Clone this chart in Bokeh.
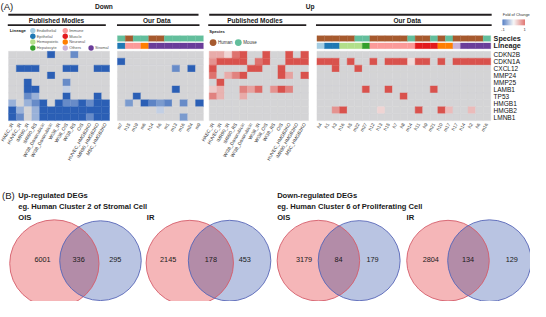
import numpy as np
from bokeh.plotting import figure
from bokeh.models import Range1d, LinearColorMapper, ColumnDataSource
from bokeh.core.properties import value
from bokeh.embed import file_html
from bokeh.resources import INLINE

N = None

# ---------------- data ----------------
GENES = ["CDKN2B", "CDKN1A", "CXCL12", "MMP24", "MMP25", "LAMB1", "TP53", "HMGB1", "HMGB2", "LMNB1"]
PUB_MODELS = ["HAEC_IR", "HUVEC_IR", "IMR90_IR", "IMR90_RS", "WI38_Doxorubicin", "WI38_Doxorubicin",
              "WI38_IR", "WI38_OIS", "WI38_RS", "OIS", "HUVEC_HMGB2KO", "IMR90_HMGB2KO", "MSC_HMGB2KO"]
DOWN_CLUSTERS = ["m7", "h15", "m19", "m6", "h14", "h6", "m1", "m13", "m16", "m24", "m9"]
DOWN_LINEAGE = ["Epithelial", "Immune", "Immune", "Neuronal", "Stromal", "Stromal", "Stromal",
                "Stromal", "Stromal", "Stromal", "Stromal"]
UP_CLUSTERS = ["h4", "h1", "h3", "h16", "h5", "m22", "m27", "h12", "h13", "h15", "h7", "h8",
               "m14", "h11", "h9", "m21", "h10", "m17", "h17", "h14", "h2", "h6", "m16"]
UP_LINEAGE = ["Endothelial", "Epithelial", "Epithelial", "Hemopoietic", "Hemopoietic", "Hemopoietic",
              "Hepatocyte", "Immune", "Immune", "Immune", "Immune", "Immune", "Immune",
              "Muscle", "Muscle", "Muscle", "Neuronal", "Neuronal", "Others",
              "Stromal", "Stromal", "Stromal", "Stromal"]
LINEAGES = ["Endothelial", "Epithelial", "Hemopoietic", "Hepatocyte", "Immune", "Muscle",
            "Neuronal", "Others", "Stromal"]
SPECIES = ["Human", "Mouse"]

# fold change, rows = GENES, columns = models / clusters (None = not significant)
DOWN_PUB = [
    [N, N, N, N, N, -1, N, N, -0.7, N, N, N, N],
    [N, N, N, N, N, N, N, N, N, N, N, N, N],
    [N, -1, -1, -1, N, N, N, -1, -1, N, N, -1, -1],
    [N, N, N, N, N, -1, N, N, N, N, N, N, N],
    [N, N, -1, N, N, N, N, -0.7, N, N, N, N, N],
    [N, N, -1, -1, N, N, N, -0.25, N, N, N, N, N],
    [N, N, -0.7, -0.45, N, N, N, -1, N, N, N, -1, N],
    [-0.45, N, -0.45, -0.7, -1, N, -1, -0.7, -0.7, -1, -0.7, -1, -1],
    [-1, -0.45, N, -0.45, -1, -1, -1, -1, -1, -1, -1, -1, -1],
    [-1, -0.7, N, -0.45, -1, -1, -1, -1, -1, -1, -0.7, -1, -1],
]
DOWN_OUR = [
    [N, N, N, N, N, N, N, N, N, N, N],
    [-1, N, N, N, N, N, N, N, N, N, N],
    [N, N, N, N, N, N, N, -0.7, N, -1, N],
    [N, N, N, N, N, N, N, N, N, N, N],
    [N, N, N, N, N, N, N, N, N, N, N],
    [N, N, N, N, N, N, N, -1, N, N, N],
    [N, N, -1, N, N, N, N, N, N, N, N],
    [N, -0.6, N, -1, -0.75, -0.6, -0.75, N, -0.7, N, -1],
    [N, N, N, N, N, -0.25, N, N, N, N, N],
    [N, N, N, N, N, N, N, N, -0.6, N, N],
]
UP_PUB = [
    [0.45, 0.45, 0.2, 0.8, 1, N, N, 1, N, N, 1, N, 1],
    [0.6, 1, 1, 1, 1, N, 0.8, 1, N, N, 1, 1, 1],
    [1, N, N, N, N, 1, 1, N, N, 1, N, N, N],
    [0.8, N, 0.45, 0.7, 1, N, N, N, N, 1, 0.5, N, 1],
    [N, 1, N, N, N, N, N, N, N, N, N, N, N],
    [0.25, 0.4, N, N, 0.7, 0.5, 0.85, N, 0.6, 1, 0.7, N, N],
    [0.7, 0.4, N, N, 0.45, N, N, N, N, N, N, N, N],
    [N, N, N, N, N, N, N, N, N, N, N, N, N],
    [N, N, N, N, N, N, N, N, N, N, N, N, N],
    [N, N, N, N, N, N, N, N, N, N, N, N, N],
]
UP_OUR = [
    [N] * 23,
    [1, 1, 1, N, 1, N, N, 1, N, 1, 1, 1, 0.15, 1, 1, N, 1, N, 1, 1, 1, 1, 1],
    [N, N, 1, N, N, 1, N, N, N, N, N, N, N, N, N, N, N, N, N, N, N, N, N],
    [N] * 23,
    [N] * 23,
    [N, N, N, N, N, N, 1, N, N, 1, N, N, N, N, N, 1, N, N, N, N, N, N, N],
    [N, N, N, N, N, N, N, N, N, N, N, 1, N, N, N, N, N, N, N, N, N, N, N],
    [N] * 23,
    [N, N, 0.6, 1, N, N, N, N, 0.2, N, N, N, N, 1, N, N, 1, 0.35, N, N, 0.35, N, N],
    [N] * 23,
]
COLORBAR_TICKS = [-1, 1]

# Venn counts: (only set A, shared, only set B)
UP_OIS = [6001, 336, 295]
UP_IR = [2145, 178, 453]
DOWN_OIS = [3179, 84, 179]
DOWN_IR = [2804, 134, 129]

# ---------------- styles / layout ----------------
REF_W, REF_H = 546, 317
W, H = 530, 301
FS = 0.96
FONT = value("Liberation Sans")
LINEAGE_COLORS = ["#a6cee3", "#1f78b4", "#b2df8a", "#33a02c", "#fb9a99", "#e31a1c", "#ff7f00", "#cab2d6", "#6a3d9a"]
SPECIES_COLORS = ["#a65a2e", "#63be9c"]
LIN_COL = dict(zip(LINEAGES, LINEAGE_COLORS))
SP_COL = dict(zip(SPECIES, SPECIES_COLORS))


def interp_palette(stops, n=256):
    cols = []
    rgb = [tuple(int(s[i:i + 2], 16) for i in (1, 3, 5)) for s in stops]
    seg = len(rgb) - 1
    for k in range(n):
        t = k / (n - 1) * seg
        i = min(int(t), seg - 1)
        f = t - i
        c = [round(rgb[i][j] + (rgb[i + 1][j] - rgb[i][j]) * f) for j in range(3)]
        cols.append("#%02x%02x%02x" % tuple(c))
    return cols


mapper = LinearColorMapper(palette=interp_palette(["#2b5fb5", "#f4f4f4", "#d9524d"]),
                           low=-1, high=1, nan_color="#d4d4d6")

p = figure(width=W, height=H, x_range=Range1d(0, REF_W), y_range=Range1d(REF_H, 0),
           x_axis_location=None, y_axis_location=None, output_backend="svg",
           toolbar_location=None, min_border=0, outline_line_color=None)
p.grid.visible = False

xr, yr = {}, {}


def lin(lo, hi, p0, p1, a, b):
    f = (hi - lo) / (p1 - p0)
    return Range1d(lo + (a - p0) * f, lo + (b - p0) * f)


def txt(x, y, s, size, bold=False, align="left", color="#1a1a1a", **kw):
    p.text(x=[x], y=[y], text=[s], text_font=FONT, text_font_size=value("%.2fpx" % (size * FS)),
           text_font_style="bold" if bold else "normal", text_align=align,
           text_baseline="middle", text_color=color, **kw)


T, B = 53.5, 126.5
HEATMAPS = [("dp", DOWN_PUB, PUB_MODELS, 8.3, 112.3),
            ("do", DOWN_OUR, DOWN_CLUSTERS, 120.5, 209.0),
            ("up", UP_PUB, PUB_MODELS, 215.0, 317.3),
            ("uo", UP_OUR, UP_CLUSTERS, 326.0, 505.0)]
for name, mat, labels, L, R in HEATMAPS:
    nr, nc = len(mat), len(mat[0])
    xr[name] = lin(0, nc, L, R, 0, REF_W)
    yr[name] = lin(0, nr, T, B, REF_H, 0)
xr["cb"] = lin(-1, 1, 517.5, 540, 0, REF_W)
p.extra_x_ranges = xr
p.extra_y_ranges = yr

for name, mat, labels, L, R in HEATMAPS:
    xs, ys, vs = [], [], []
    for r, row in enumerate(mat):
        for c, v in enumerate(row):
            xs.append(c + 0.5)
            ys.append(r + 0.5)
            vs.append(np.nan if v is None else v)
    src = ColumnDataSource(dict(x=xs, y=ys, v=np.array(vs, dtype=float)))
    p.rect("x", "y", 1, 1, source=src, x_range_name=name, y_range_name=name,
           fill_color={"field": "v", "transform": mapper},
           line_color={"field": "v", "transform": mapper}, line_width=0.4)
    p.text(x=[i + 0.5 for i in range(len(labels))], y=[129.5] * len(labels), text=labels,
           x_range_name=name, angle=np.deg2rad(60), text_align="right", text_baseline="middle",
           text_font=FONT, text_font_size=value("%.2fpx" % (4.9 * FS)), text_color="#333333")

# annotation bars
for name, clusters, lineage in [("do", DOWN_CLUSTERS, DOWN_LINEAGE), ("uo", UP_CLUSTERS, UP_LINEAGE)]:
    n = len(clusters)
    sp = ["Human" if c.startswith("h") else "Mouse" for c in clusters]
    src = ColumnDataSource(dict(x=[i + 0.5 for i in range(n)],
                                sc=[SP_COL[s] for s in sp], lc=[LIN_COL[l] for l in lineage]))
    p.rect("x", 40.0, 1, 6.0, source=src, x_range_name=name, fill_color="sc", line_color="sc", line_width=0.3)
    p.rect("x", 47.7, 1, 6.0, source=src, x_range_name=name, fill_color="lc", line_color="lc", line_width=0.3)

# gene names
p.text(x=[508] * len(GENES), y=[i + 0.5 for i in range(len(GENES))], text=GENES, y_range_name="uo",
       text_font=FONT, text_font_size=value("%.2fpx" % (6.8 * FS)), text_baseline="middle",
       text_color="#111111")
txt(508, 40.0, "Species", 7.5, bold=True)
txt(508, 47.6, "Lineage", 7.5, bold=True)

# headers
txt(0, 6.5, "(A)", 10)
txt(106.5, 6.7, "Down", 6.9, bold=True, align="center")
txt(319, 6.7, "Up", 6.9, bold=True, align="center")
p.segment(x0=[8, 215], y0=[15, 15], x1=[204, 506], y1=[15, 15], line_width=1.8, line_color="#231f20")
p.segment(x0=[7.5, 120, 214, 325], y0=[26, 26, 26, 26], x1=[108.5, 205, 315, 506], y1=[26, 26, 26, 26],
          line_width=1.8, line_color="#231f20")
for cx, s in [(57.7, "Published Modles"), (161, "Our Data"), (262, "Published Modles"), (419, "Our Data")]:
    txt(cx, 21.5, s, 6.8, bold=True, align="center")

# lineage legend
txt(9.5, 32, "Lineage", 4.5, bold=True)
LEG_X = [33.3, 33.3, 33.3, 33.3, 66.7, 66.7, 66.7, 66.7, 93.3]
LEG_Y = [31.7, 37.7, 43.7, 50.0, 31.7, 37.7, 43.7, 50.0, 50.0]
p.scatter(LEG_X, LEG_Y, size=5.4, fill_color=LINEAGE_COLORS, line_color=None)
p.text(x=[x + 4 for x in LEG_X], y=LEG_Y, text=LINEAGES, text_font=FONT,
       text_font_size=value("%.2fpx" % (4.1 * FS)), text_baseline="middle", text_color="#555555")

# species legend
txt(215, 32.5, "Species", 4.3, bold=True)
SPL_X = [219, 245]
p.scatter(SPL_X, [44.3, 44.3], size=6.8, fill_color=SPECIES_COLORS, line_color=None)
p.text(x=[x + 5 for x in SPL_X], y=[44.3, 44.3], text=SPECIES, text_font=FONT,
       text_font_size=value("%.2fpx" % (4.7 * FS)), text_baseline="middle", text_color="#333333")

# colour bar
cb = np.linspace(-1, 1, 40)
step = cb[1] - cb[0]
p.rect(x=cb, y=[23] * len(cb), width=step * 1.05, height=6, x_range_name="cb",
       fill_color={"field": "x", "transform": mapper}, line_color=None)
txt(517.5, 14.5, "Fold of Change", 4.1, color="#333333")
p.text(x=COLORBAR_TICKS, y=[30.5, 30.5], text=[str(t) for t in COLORBAR_TICKS], x_range_name="cb",
       text_font=FONT, text_font_size=value("%.2fpx" % (4.2 * FS)), text_align="center",
       text_baseline="middle", text_color="#333333")

# ---------------- Part B ----------------
txt(1.5, 205, "(B)", 10)
txt(18.3, 205, "Up-regulated DEGs", 7.9, bold=True)
txt(18.3, 216.7, "eg. Human Cluster 2 of Stromal Cell", 7.9, bold=True)
txt(18.3, 228.5, "OIS", 7.9, bold=True)
txt(150.7, 228.5, "IR", 7.9, bold=True)
txt(285, 205, "Down-regulated DEGs", 7.9, bold=True)
txt(285, 216.7, "eg. Human Cluster 6 of Proliferating Cell", 7.9, bold=True)
txt(285, 228.5, "OIS", 7.9, bold=True)
txt(418.3, 228.5, "IR", 7.9, bold=True)

VENN_GEOM = [((55.5, 277.0, 46.0), (103.0, 274.0, 42.0)),
             ((195.0, 276.5, 45.0), (236.0, 274.0, 42.5)),
             ((327.5, 274.0, 42.5), (369.5, 274.0, 42.2)),
             ((461.0, 274.0, 42.5), (503.7, 274.0, 43.0))]
VENN_LABEL_X = [(43.3, 80.5, 118.3), (172.7, 216.7, 251.7), (312.7, 348.3, 383.3), (443.3, 481.7, 526.7)]


def lens(c1, c2, n=720):
    t = np.linspace(0, 2 * np.pi, n, endpoint=False)
    (x1, y1, r1), (x2, y2, r2) = c1, c2
    ax, ay = x1 + r1 * np.cos(t), y1 + r1 * np.sin(t)
    bx, by = x2 + r2 * np.cos(t), y2 + r2 * np.sin(t)
    ina = (ax - x2) ** 2 + (ay - y2) ** 2 <= r2 ** 2
    inb = (bx - x1) ** 2 + (by - y1) ** 2 <= r1 ** 2
    xs = np.concatenate([ax[ina], bx[inb]])
    ys = np.concatenate([ay[ina], by[inb]])
    o = np.argsort(np.arctan2(ys - ys.mean(), xs - xs.mean()))
    return xs[o], ys[o]


for (c1, c2), counts, lx in zip(VENN_GEOM, [UP_OIS, UP_IR, DOWN_OIS, DOWN_IR], VENN_LABEL_X):
    p.ellipse(x=[c1[0]], y=[c1[1]], width=[2 * c1[2]], height=[2 * c1[2]], fill_color="#f5b6b8", line_color=None)
    p.ellipse(x=[c2[0]], y=[c2[1]], width=[2 * c2[2]], height=[2 * c2[2]], fill_color="#b9c4e2", line_color=None)
    lxs, lys = lens(c1, c2)
    p.patch(lxs, lys, fill_color="#b38ca8", line_color=None)
    p.ellipse(x=[c1[0]], y=[c1[1]], width=[2 * c1[2]], height=[2 * c1[2]], fill_color=None,
              line_color="#d55d6b", line_width=0.9)
    p.ellipse(x=[c2[0]], y=[c2[1]], width=[2 * c2[2]], height=[2 * c2[2]], fill_color=None,
              line_color="#5866b8", line_width=0.9)
    p.text(x=list(lx), y=[272.3] * 3, text=[str(c) for c in counts], text_font=FONT,
           text_font_size=value("%.2fpx" % (7.6 * FS)), text_align="center", text_baseline="middle",
           text_color="#1a1a1a")

open("out.html", "w").write(file_html(p, INLINE))
